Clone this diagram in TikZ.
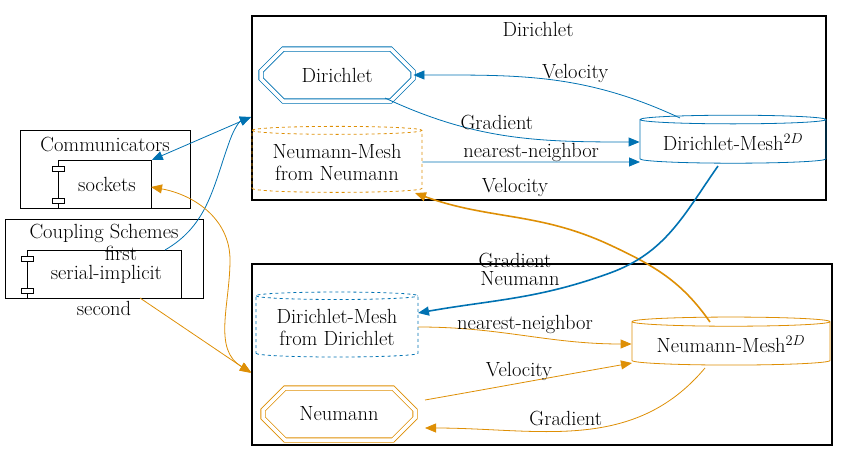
\documentclass[tikz,border=0pt]{standalone}
\usetikzlibrary{shapes.geometric,shapes.misc,arrows.meta}
\definecolor{dblue}{RGB}{0,114,178}
\definecolor{dorange}{RGB}{222,143,5}
\tikzset{
  txt/.style={font=\fontsize{20.5}{22}\selectfont},
  cluster/.style={draw, line width=1.5pt},
  group/.style={draw, line width=0.8pt},
  comp/.style={draw, rectangle, inner sep=0pt, txt, line width=0.8pt},
  octo/.style={chamfered rectangle, chamfered rectangle xsep=24pt, chamfered rectangle ysep=15pt,
    draw, double, double distance=3.5pt, line width=0.8pt, inner sep=0pt, txt, minimum width=152pt, minimum height=52pt},
  mesh/.style={cylinder, shape border rotate=90, aspect=0.06, draw, txt, align=center, inner sep=2pt, line width=0.8pt},
  lbl/.style={txt, fill=none},
  flow/.style={-{Triangle[length=11pt,width=9pt]}, line width=0.8pt},
  both/.style={{Triangle[length=11pt,width=9pt]}-{Triangle[length=11pt,width=9pt]}},
}
\begin{document}
\begin{tikzpicture}[x=1pt,y=-1pt]
\useasboundingbox (0,0) rectangle (847,461);
% Cluster Dirichlet
\node [cluster, minimum width=574pt, minimum height=184pt, anchor=north west] (clD) at (251,15) {};
\node [txt] (clDlabel) at (538,29) {Dirichlet};
% Cluster Neumann
\node [cluster, minimum width=580pt, minimum height=181pt, anchor=north west] (clN) at (251,263) {};
\node [txt] (clNlabel) at (520,279) {Neumann};
% Communicators
\node [group, minimum width=170pt, minimum height=78pt, anchor=north west] (comm) at (20,130) {};
\node [txt] (commlabel) at (105,144) {Communicators};
\node [comp, minimum width=93pt, minimum height=48pt, anchor=north west] (sockets) at (58,160) {\hspace*{4pt}sockets};
\foreach \y in {16,-16} \draw [fill=white, line width=0.8pt] ([yshift=\y pt]sockets.west) +(-6,-2.5) rectangle +(6,2.5);
% Coupling Schemes
\node [group, minimum width=198pt, minimum height=79pt, anchor=north west] (cpl) at (5,219) {};
\node [txt] (cpllabel) at (104,233) {Coupling Schemes};
\node [comp, minimum width=154pt, minimum height=48pt, anchor=north west] (serial) at (27,250) {\hspace*{4pt}serial-implicit};
\foreach \y in {16,-16} \draw [fill=white, line width=0.8pt] ([yshift=\y pt]serial.west) +(-6,-2.5) rectangle +(6,2.5);
% Participants and meshes
\node [octo, dblue] (dir) at (337,75) {\color{black}Dirichlet};
\node [octo, dorange] (neu) at (339,414) {\color{black}Neumann};
\node [mesh, dorange, dashed, minimum width=170pt, minimum height=66pt] (mNfromN) at (337,162) {\color{black}Neumann-Mesh\\\color{black}from Neumann};
\node [mesh, dblue, dashed, minimum width=162pt, minimum height=65pt] (mDfromD) at (337,327) {\color{black}Dirichlet-Mesh\\\color{black}from Dirichlet};
\node [mesh, dblue, minimum width=186pt, minimum height=48pt] (mD) at (733,142) {\color{black}Dirichlet-Mesh$^{2D}$};
\node [mesh, dorange, minimum width=198pt, minimum height=48pt] (mN) at (731,344) {\color{black}Neumann-Mesh$^{2D}$};
% Dirichlet edges
\draw [flow, dblue] (680,118) to [out=155, in=0] node [lbl, black, pos=0.4, above=-3pt] {Velocity} (dir.east);
\draw [flow, dblue] (385,98) to [out=-25, in=180] node [lbl, black, pos=0.45, above=1pt] {Gradient} (mD.west);
\draw [flow, dblue] (mNfromN.east) to [out=0, in=180] node [lbl, black, above=-3pt] {nearest-neighbor} (640,162);
% Neumann edges
\draw [flow, dorange] (mDfromD.east) to [out=0, in=180] node [lbl, black, above=-2pt] {nearest-neighbor} (mN.west);
\draw [flow, dorange] (425,400) to [out=10, in=190] node [lbl, black, pos=0.45, above=-1pt] {Velocity} (632,363);
\draw [flow, dorange] (705,368) to [out=-130, in=0] node [lbl, black, pos=0.55, above=2pt] {Gradient} (425,428);
% Cross edges
\draw [flow, dorange, line width=1.6pt] (710,322) to [out=125, in=-25] (610,245) to [out=155, in=-20] (415,193);
\node [txt] (vellbl) at (515,187) {Velocity};
\draw [flow, dblue, line width=1.6pt] (718,166) to [out=-125, in=20] (610,273) to [out=-160, in=10] (418,313);
\node [txt] (gradlbl) at (515,260) {Gradient};
% Configuration edges
\draw [flow, dblue, both] (sockets.north east) -- (251,117);
\draw [flow, dblue] (165,250) to [out=30, in=-110] (230,140) to [out=70, in=200] (251,117);
\node [txt] (firstlbl) at (121,253) {first};
\draw [flow, dorange] (140,298) -- (251,373);
\node [txt] (secondlbl) at (104,308) {second};
\draw [flow, dorange, both] (151,187) to [out=-10, in=90] (230,260) to [out=-90, in=150] (251,372);
\end{tikzpicture}
\end{document}
